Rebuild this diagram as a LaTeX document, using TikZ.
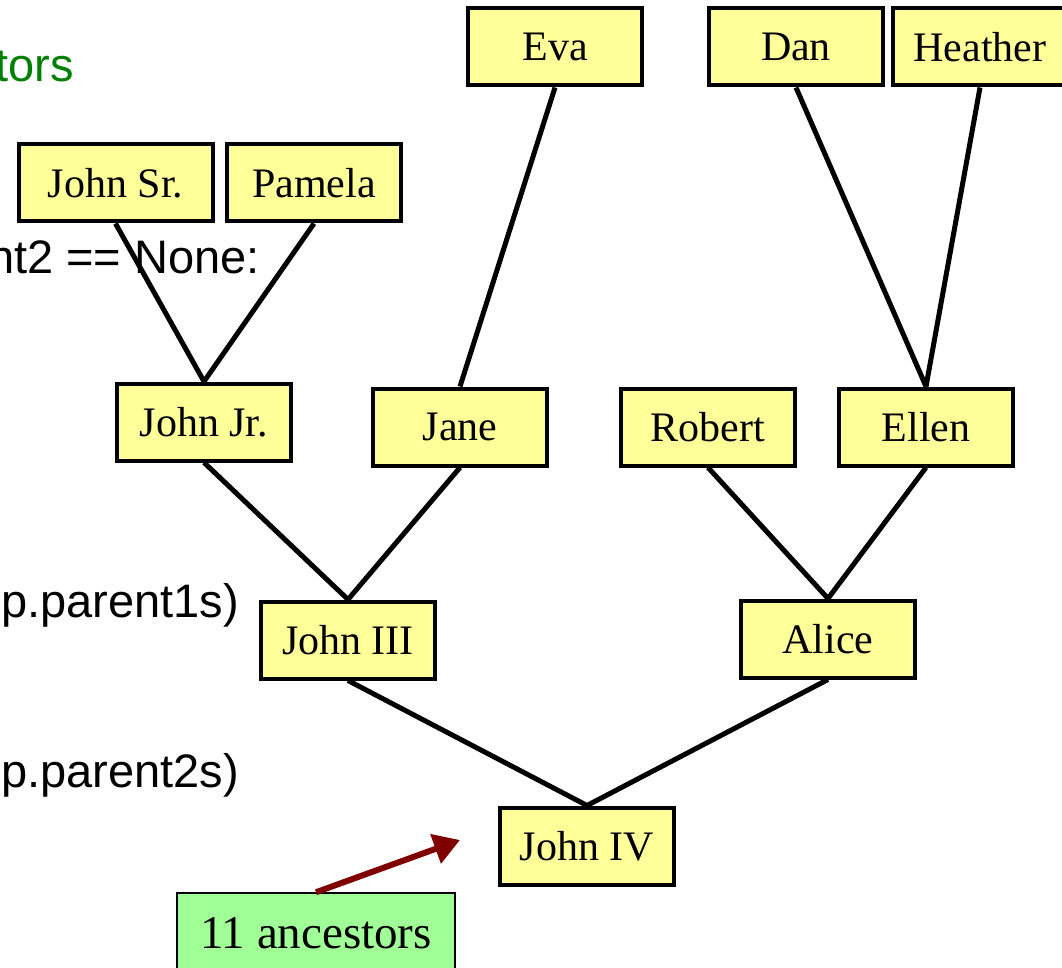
\documentclass[tikz,border=0pt]{standalone}
\usepackage{fontspec}
\setmainfont{Liberation Serif}
\newfontfamily\codefont{Liberation Sans}
\usetikzlibrary{arrows.meta}
\definecolor{personfill}{RGB}{255,255,153}
\definecolor{notefill}{RGB}{160,255,150}
\definecolor{codegreen}{RGB}{0,128,0}
\definecolor{arrowred}{RGB}{128,0,0}
\tikzset{
  person/.style={draw=black, line width=4pt, fill=personfill, rectangle,
    minimum width=174pt, minimum height=77pt, inner sep=0pt,
    font=\fontsize{42}{48}\selectfont},
  note/.style={draw=black, line width=1.5pt, fill=notefill, rectangle,
    minimum width=278pt, minimum height=80pt, inner sep=0pt,
    font=\fontsize{47}{54}\selectfont},
  code/.style={anchor=base west, inner sep=0pt,
    font=\codefont\fontsize{47}{54}\selectfont},
  link/.style={line width=5pt, black},
  pointer/.style={line width=6pt, arrowred,
    -{Triangle[length=26pt, width=30pt]}}
}
\begin{document}
\begin{tikzpicture}[x=1pt, y=-1pt]
\useasboundingbox (0,0) rectangle (1062,968);
\clip (0,0) rectangle (1062,968);
\fill[white] (0,0) rectangle (1062,968);

% code fragments behind the tree
\node[code, text=codegreen] (c1) at (-5,82) {tors};
\node[code] (c2) at (-12,273) {nt2 == None:};
\node[code] (c3) at (1,617) {p.parent1s)};
\node[code] (c4) at (1,787) {p.parent2s)};

% family tree
\node[person] (eva) at (555,47) {Eva};
\node[person] (dan) at (796,47) {Dan};
\node[person] (heather) at (980,47) {Heather};
\node[person, minimum width=194pt] (johnsr) at (115.5,183) {John Sr.};
\node[person] (pamela) at (314,183) {Pamela};
\node[person] (johnjr) at (204,422) {John Jr.};
\node[person] (jane) at (460,427) {Jane};
\node[person] (robert) at (708,427) {Robert};
\node[person] (ellen) at (926,427) {Ellen};
\node[person] (john3) at (348,640) {John III};
\node[person] (alice) at (828,639) {Alice};
\node[person] (john4) at (587,846) {John IV};

\draw[link] (johnjr.north) -- (johnsr.south);
\draw[link] (johnjr.north) -- (pamela.south);
\draw[link] (jane.north) -- (eva.south);
\draw[link] (ellen.north) -- (dan.south);
\draw[link] (ellen.north) -- (heather.south);
\draw[link] (john3.north) -- (johnjr.south);
\draw[link] (john3.north) -- (jane.south);
\draw[link] (alice.north) -- (robert.south);
\draw[link] (alice.north) -- (ellen.south);
\draw[link] (john4.north) -- (john3.south);
\draw[link] (john4.north) -- (alice.south);

% note with pointer
\node[note] (count) at (316,933) {11 ancestors};
\coordinate (tip) at (460,840);
\draw[pointer] (count.north) -- (tip);
\end{tikzpicture}
\end{document}
